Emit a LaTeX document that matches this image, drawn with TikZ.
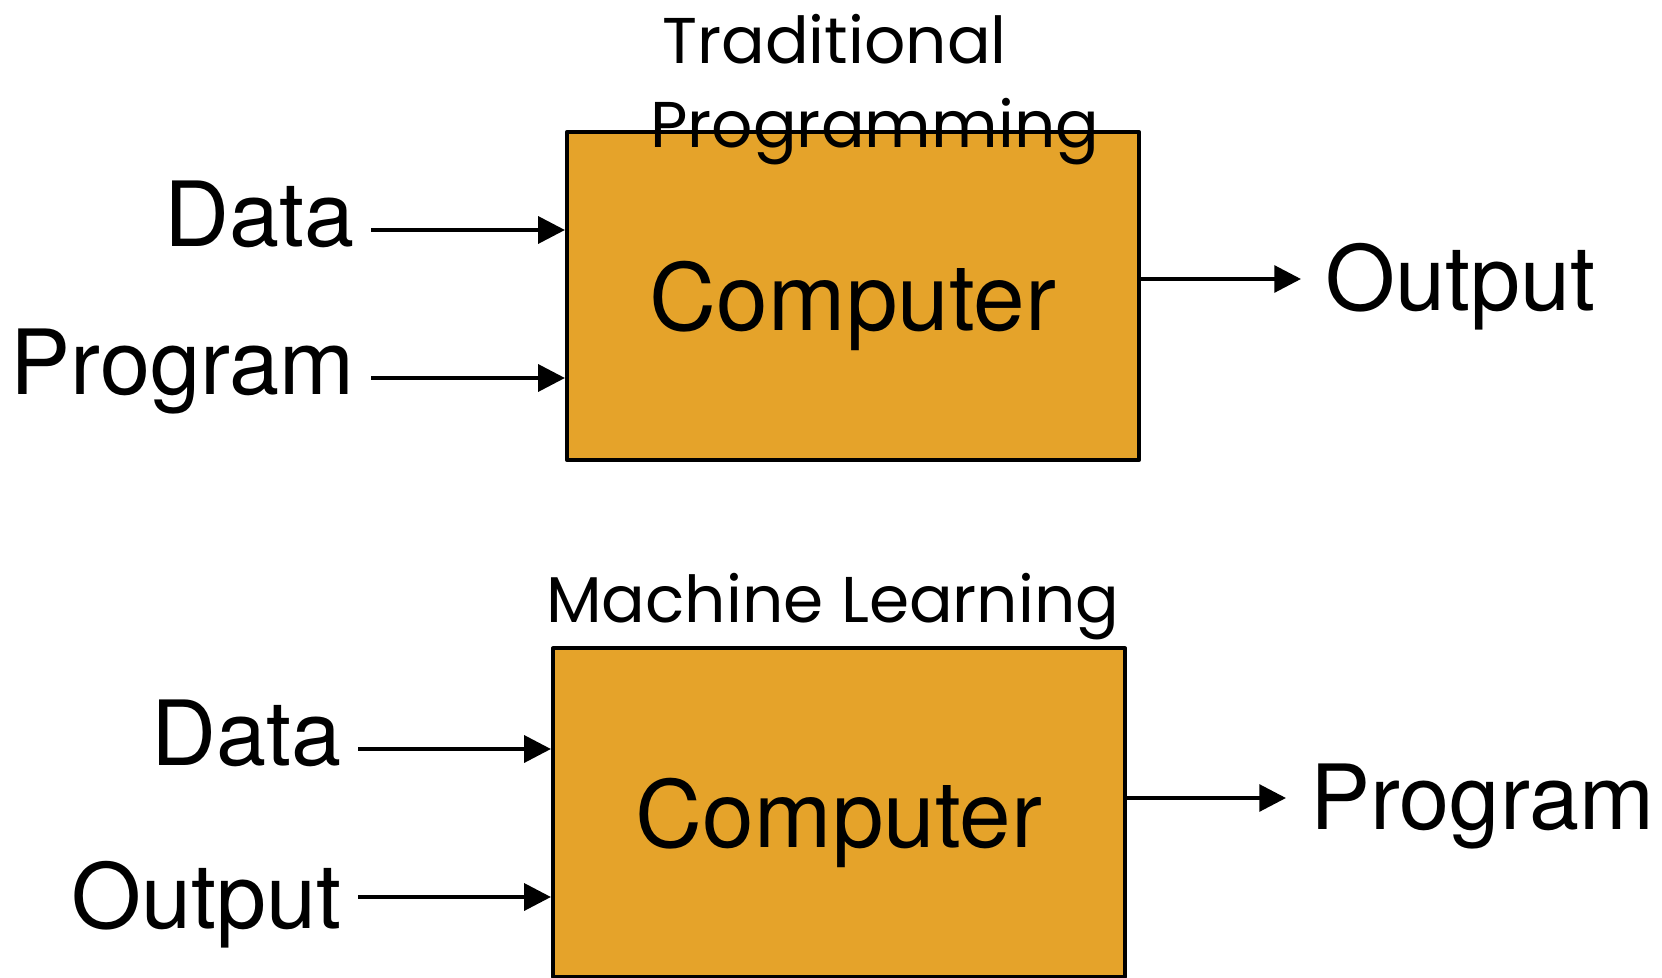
\documentclass[tikz,border=0pt]{standalone}
\usepackage{fontspec}
\setmainfont{TeX Gyre Heros}
\newfontfamily\handfont{Poppins}
\usetikzlibrary{arrows.meta,positioning}
\definecolor{boxorange}{RGB}{229,163,42}
\begin{document}
\begin{tikzpicture}[x=0.025cm,y=-0.025cm,line join=round,
	cpu/.style={draw=black,fill=boxorange,line width=2.8pt,minimum width=14.3cm,minimum height=8.2cm,inner sep=0pt,text depth=0pt,font=\fontsize{66}{72}\selectfont},
	flow/.style={-{Triangle[length=19pt,width=19pt]},line width=2.8pt},
	inlbl/.style={font=\fontsize{64}{72}\selectfont,inner ysep=0pt,inner xsep=0.4cm,text height=1.7cm,text depth=0.9cm},
	midlbl/.style={inlbl,text depth=0.15cm},
	heading/.style={font=\handfont\fontsize{46}{60}\selectfont,inner sep=0pt,align=left}]
	\useasboundingbox (0,0) rectangle (1662,978);
	% traditional programming
	\node[cpu] (boxA) at (853,296) {Computer};
	\node[inlbl,anchor=east] (dataA) at (371,230) {Data};
	\node[inlbl,anchor=east] (progA) at (371,378) {Program};
	\node[midlbl,anchor=west,inner xsep=0.6cm] (outA) at (1301,279) {Output};
	\draw[flow] (dataA.east) -- (dataA.east -| boxA.west);
	\draw[flow] (progA.east) -- (progA.east -| boxA.west);
	\draw[flow] (outA.west -| boxA.east) -- (outA.west);
	\node[heading,anchor=base west] (titleA) at (650,148) {\hspace*{0.3cm}Traditional\\Programming};
	% machine learning
	\node[cpu] (boxB) at (839,812.5) {Computer};
	\node[inlbl,anchor=east] (dataB) at (358,749) {Data};
	\node[midlbl,anchor=east] (outB) at (358,897) {Output};
	\node[midlbl,anchor=west,inner xsep=0.6cm] (progB) at (1286,798) {Program};
	\draw[flow] (dataB.east) -- (dataB.east -| boxB.west);
	\draw[flow] (outB.east) -- (outB.east -| boxB.west);
	\draw[flow] (progB.west -| boxB.east) -- (progB.west);
	\node[heading,anchor=base west] (titleB) at (546,622) {Machine Learning};
\end{tikzpicture}
\end{document}
